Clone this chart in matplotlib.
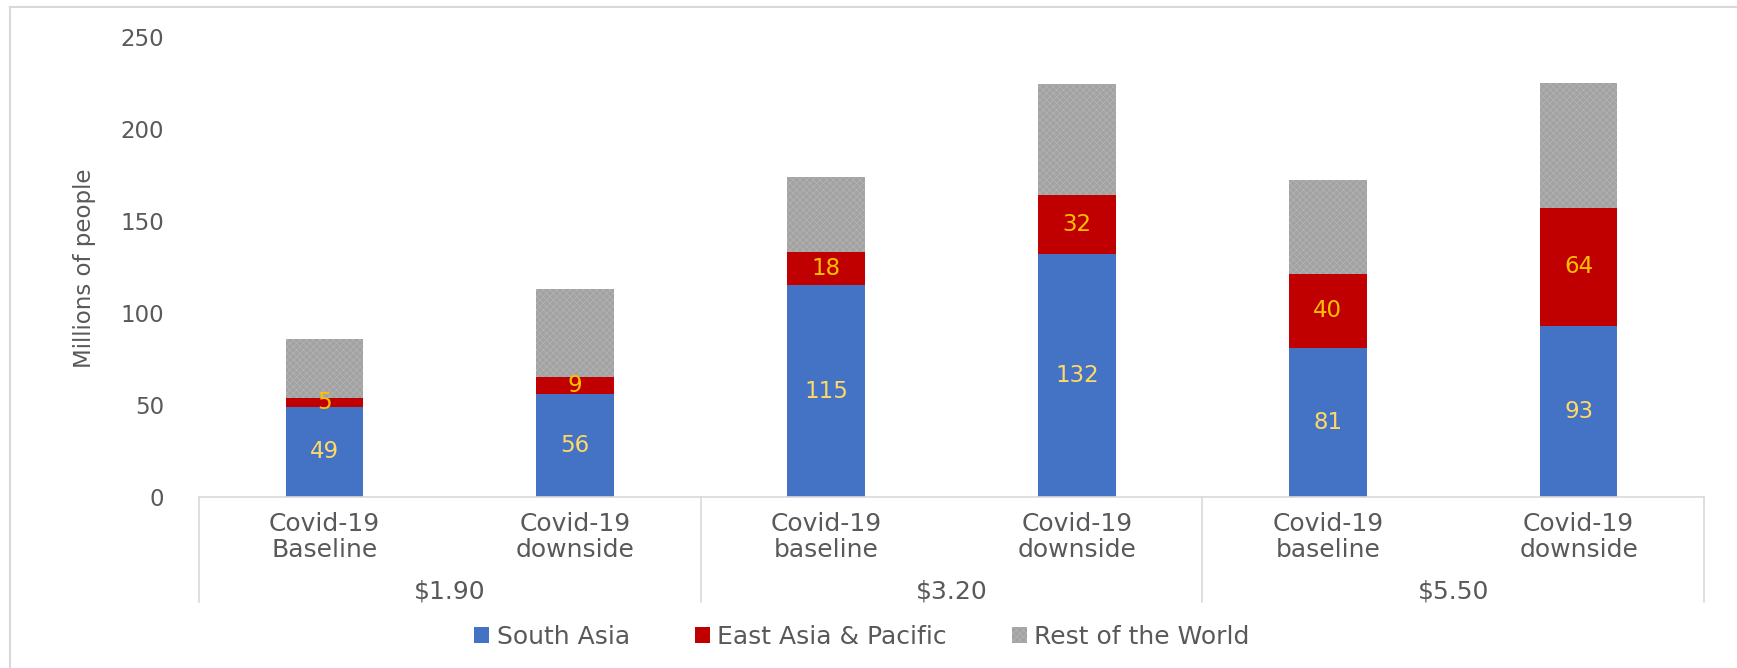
import matplotlib
matplotlib.use("Agg")
import matplotlib.pyplot as plt
from matplotlib.lines import Line2D
from matplotlib.transforms import blended_transform_factory

categories = ["Covid-19\nBaseline", "Covid-19\ndownside", "Covid-19\nbaseline",
              "Covid-19\ndownside", "Covid-19\nbaseline", "Covid-19\ndownside"]
groups = ["$1.90", "$3.20", "$5.50"]
south_asia = [49, 56, 115, 132, 81, 93]
east_asia = [5, 9, 18, 32, 40, 64]
rest_world = [32, 48, 41, 60, 51, 68]
series_names = ["South Asia", "East Asia & Pacific", "Rest of the World"]
yticks = [0, 50, 100, 150, 200, 250]

W, H = 1737, 668
fig = plt.figure(figsize=(W / 100, H / 100), dpi=100)
ax = fig.add_axes([199 / W, 1 - 497 / H, (1704 - 199) / W, (497 - 36.6) / H])

TXT = "#595959"
LINE = "#D9D9D9"
plt.rcParams['hatch.linewidth'] = 0.5

x = list(range(len(categories)))
width = 0.31
b1 = ax.bar(x, south_asia, width, color="#4472C4", label=series_names[0])
b2 = ax.bar(x, east_asia, width, bottom=south_asia, color="#C00000",
            label=series_names[1])
bottom3 = [a + b for a, b in zip(south_asia, east_asia)]
b3 = ax.bar(x, rest_world, width, bottom=bottom3, facecolor="#A2A2A2",
            edgecolor="#B4B4B4", linewidth=0, hatch="xxxxx", label=series_names[2])

ax.bar_label(b1, labels=[str(v) for v in south_asia], label_type="center",
             color="#FFD966", fontsize=16.5)
ax.bar_label(b2, labels=[str(v) for v in east_asia], label_type="center",
             color="#FFC000", fontsize=16.5)

ax.set_xlim(-0.5, 5.5)
ax.set_ylim(0, 250)
ax.set_yticks(yticks)
ax.tick_params(axis="y", length=0, pad=25, labelsize=16.5, labelcolor=TXT)
ax.set_xticks([])
for s in ["left", "top", "right"]:
    ax.spines[s].set_visible(False)
ax.spines["bottom"].set_color(LINE)
ax.spines["bottom"].set_linewidth(1.2)

trans = blended_transform_factory(ax.transData, ax.transAxes)
for xi, lab in zip(x, categories):
    ax.text(xi, -40 / 460.4, lab, transform=trans, ha="center", va="center",
            fontsize=18, color=TXT, linespacing=1.12)
for gi, g in enumerate(groups):
    ax.text(2 * gi + 0.5, -94 / 460.4, g, transform=trans, ha="center", va="center",
            fontsize=18, color=TXT)
for xd in [-0.5, 1.5, 3.5, 5.5]:
    ax.plot([xd, xd], [0, -105 / 460.4], transform=trans, color=LINE, lw=1.2,
            clip_on=False)

fig.text(84 / W, 1 - 268 / H, "Millions of people", rotation=90, ha="center",
         va="center", fontsize=16.5, color=TXT)

leg = ax.legend(loc="center", bbox_to_anchor=(862 / W, 1 - 637 / H),
                bbox_transform=fig.transFigure, ncol=3, frameon=False, fontsize=18,
                handlelength=0.6, handleheight=0.6, handletextpad=0.3,
                columnspacing=2.6)
for t in leg.get_texts():
    t.set_color(TXT)

fig.add_artist(Line2D([10 / W, 1], [1 - 7 / H, 1 - 7 / H], color=LINE, lw=1.5,
                      transform=fig.transFigure))
fig.add_artist(Line2D([10 / W, 10 / W], [0, 1 - 7 / H], color=LINE, lw=1.5,
                      transform=fig.transFigure))

fig.savefig("out.png", dpi=100)
